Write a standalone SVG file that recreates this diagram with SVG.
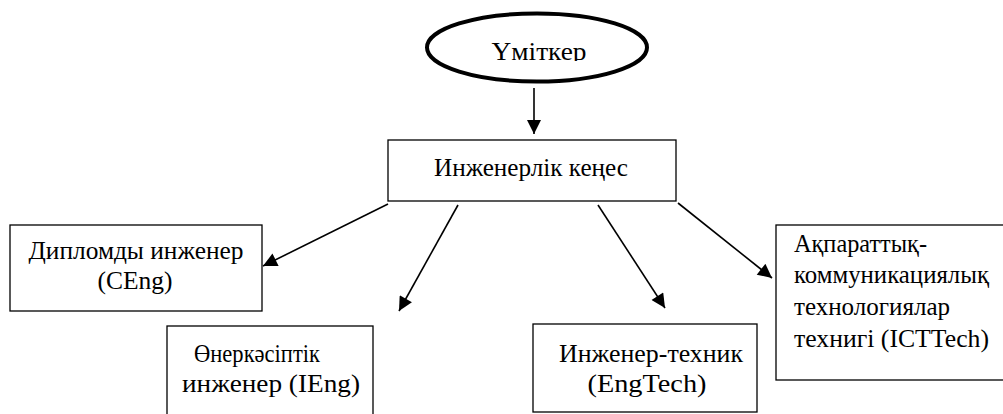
<svg xmlns="http://www.w3.org/2000/svg" width="1003" height="414" viewBox="0 0 1003 414">
<style>
.box{fill:#fff;stroke:#000;stroke-width:1.3}
.t{font-family:"Liberation Serif","Times New Roman","DejaVu Serif",serif;font-size:25px;fill:#000}
.c{text-anchor:middle}
.conn{stroke:#000;stroke-width:1.6;fill:none;marker-end:url(#ah)}
</style>
<defs>
<marker id="ah" viewBox="0 0 10 10" refX="10" refY="5" markerUnits="userSpaceOnUse" markerWidth="15" markerHeight="14" orient="auto">
<path d="M0,0 L10,5 L0,10 Z" fill="#000"/>
</marker>
<clipPath id="clipTop"><rect x="430" y="20" width="215" height="41"/></clipPath>
</defs>
<rect width="1003" height="414" fill="#fff"/>
<g id="node-umitker">
<ellipse cx="537" cy="47.5" rx="110" ry="34" fill="#fff" stroke="#000" stroke-width="4"/>
<text class="t c" x="539" y="60" font-size="26" textLength="95" lengthAdjust="spacingAndGlyphs" clip-path="url(#clipTop)">Үміткер</text>
</g>
<g id="node-kenes">
<rect class="box" x="388" y="140" width="288" height="61"/>
<text class="t c" x="531" y="176" textLength="194" lengthAdjust="spacingAndGlyphs">Инженерлік кеңес</text>
</g>
<g id="node-ceng">
<rect class="box" x="10" y="225" width="252" height="86"/>
<text class="t c" x="136" y="259" textLength="215" lengthAdjust="spacingAndGlyphs">Дипломды инженер</text>
<text class="t c" x="135" y="289" textLength="75" lengthAdjust="spacingAndGlyphs">(CEng)</text>
</g>
<g id="node-ieng">
<rect class="box" x="167" y="326" width="206" height="100"/>
<text class="t c" x="257" y="362" textLength="126" lengthAdjust="spacingAndGlyphs">Өнеркәсіптік</text>
<text class="t c" x="271" y="392" textLength="178" lengthAdjust="spacingAndGlyphs">инженер (IEng)</text>
</g>
<g id="node-engtech">
<rect class="box" x="533" y="324" width="224" height="88"/>
<text class="t c" x="651" y="362" textLength="184" lengthAdjust="spacingAndGlyphs">Инженер-техник</text>
<text class="t c" x="647" y="392" textLength="119" lengthAdjust="spacingAndGlyphs">(EngTech)</text>
</g>
<g id="node-icttech">
<rect class="box" x="776" y="225" width="240" height="155"/>
<text class="t" x="794" y="252" textLength="133" lengthAdjust="spacingAndGlyphs">Ақпараттық-</text>
<text class="t" x="794" y="283" textLength="195" lengthAdjust="spacingAndGlyphs">коммуникациялық</text>
<text class="t" x="794" y="315" textLength="156" lengthAdjust="spacingAndGlyphs">технологиялар</text>
<text class="t" x="794" y="347" textLength="195" lengthAdjust="spacingAndGlyphs">технигі (ICTTech)</text>
</g>
<g id="connectors">
<line class="conn" x1="534" y1="88" x2="534" y2="134"/>
<line class="conn" x1="388" y1="204" x2="263" y2="266"/>
<line class="conn" x1="458" y1="205" x2="399" y2="311"/>
<line class="conn" x1="598" y1="205" x2="665" y2="308"/>
<line class="conn" x1="678" y1="203" x2="772" y2="278"/>
</g>
</svg>
